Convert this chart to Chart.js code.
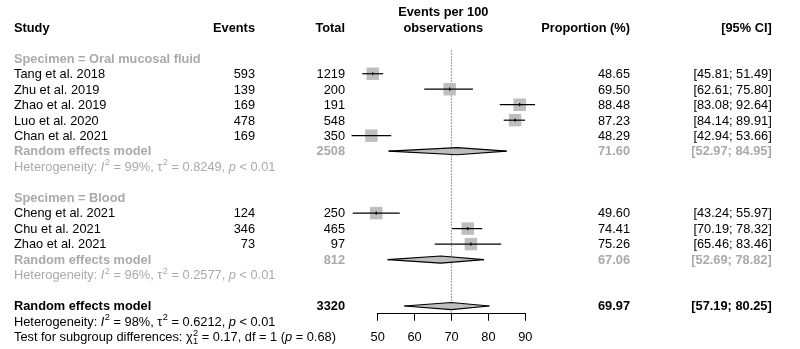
<!DOCTYPE html>
<html>
<head>
<meta charset="utf-8">
<script src="https://cdn.jsdelivr.net/npm/chart.js@4/dist/chart.umd.min.js"></script>
<style>
  html, body { margin: 0; padding: 0; background: #fff; }
  canvas { display: block; }
</style>
</head>
<body>
<canvas id="forest" width="800" height="349"></canvas>
<script>
// forest plot: proportion per specimen type

const studyLabels = ["Tang et al. 2018", "Zhu et al. 2019", "Zhao et al. 2019", "Luo et al. 2020", "Chan et al. 2021",
                     "Cheng et al. 2021", "Chu et al. 2021", "Zhao et al. 2021"];
const studyGroup  = [0, 0, 0, 0, 0, 1, 1, 1];
const studyEvents = [593, 139, 169, 478, 169, 124, 346, 73];
const studyTotals = [1219, 200, 191, 548, 350, 250, 465, 97];
const studyProp   = [48.65, 69.50, 88.48, 87.23, 48.29, 49.60, 74.41, 75.26];
const studyLower  = [45.81, 62.61, 83.08, 84.14, 42.94, 43.24, 70.19, 65.46];
const studyUpper  = [51.49, 75.80, 92.64, 89.91, 53.66, 55.97, 78.32, 83.46];

const groupNames  = ["Oral mucosal fluid", "Blood"];
const groupTotals = [2508, 812];
const groupProp   = [71.60, 67.06];
const groupLower  = [52.97, 52.69];
const groupUpper  = [84.95, 78.82];
const groupI2     = ["99%", "96%"];
const groupTau2   = ["0.8249", "0.2577"];
const groupP      = ["< 0.01", "< 0.01"];

const overallTotal = 3320;
const overallProp  = 69.97;
const overallLower = 57.19;
const overallUpper = 80.25;
const overallI2 = "98%", overallTau2 = "0.6212", overallP = "< 0.01";
const testChi2 = "0.17", testDf = "1", testP = "0.68";

const xTicks = [50, 60, 70, 80, 90];

// ---- layout ----
const FONT = '"Liberation Sans", Arial, Helvetica, sans-serif';
const FS = 12.8;
const GREY = "#aaaaaa";
const col = { study: 14, events: 255, total: 345, mid: 443.3, prop: 630, ci: 771.7 };
const TXT_DY = 0.8;

// rows: group header, studies, model, heterogeneity, blank
let row = 2;
const groupRows = [], studyRows = [], modelRows = [], hetRows = [];
groupNames.forEach((g, gi) => {
  groupRows.push(row++);
  studyGroup.forEach((sg, i) => { if (sg === gi) studyRows[i] = row++; });
  modelRows.push(row++);
  hetRows.push(row);
  row += 2;
});
const overallRow = row;

const H = 0.23; // diamond half height (rows)
const datasets = [];

datasets.push({
  data: [{ x: overallProp, y: groupRows[0] - 0.5 }, { x: overallProp, y: overallRow + 0.5 }],
  showLine: true, borderColor: "#333", borderWidth: 1, borderDash: [1, 2],
  pointRadius: 0, clip: false, order: 9
});

studyLabels.forEach((s, i) => {
  datasets.push({
    data: [{ x: studyLower[i], y: studyRows[i] }, { x: studyUpper[i], y: studyRows[i] }],
    showLine: true, borderColor: "#000", borderWidth: 1.2,
    pointRadius: 0, clip: false, order: 2
  });
});

datasets.push({
  data: studyProp.map((p, i) => ({ x: p, y: studyRows[i] })),
  pointStyle: "rect", pointRadius: 8.8, backgroundColor: "#bebebe",
  borderWidth: 0, clip: false, order: 3
});
datasets.push({
  data: studyProp.map((p, i) => ({ x: p, y: studyRows[i] })),
  pointStyle: "line", rotation: 90, pointRadius: 1.6, borderColor: "#000",
  borderWidth: 1.2, clip: false, order: 1
});

function addDiamond(est, lo, hi, r) {
  datasets.push({
    data: [{ x: lo, y: r }, { x: est, y: r - H }, { x: hi, y: r }],
    showLine: true, borderColor: "#000", borderWidth: 1.1, pointRadius: 0,
    fill: false, clip: false, order: 2
  });
  datasets.push({
    data: [{ x: lo, y: r }, { x: est, y: r + H }, { x: hi, y: r }],
    showLine: true, borderColor: "#000", borderWidth: 1.1, pointRadius: 0,
    fill: "-1", backgroundColor: "#bebebe", clip: false, order: 2
  });
}
groupProp.forEach((p, gi) => addDiamond(p, groupLower[gi], groupUpper[gi], modelRows[gi]));
addDiamond(overallProp, overallLower, overallUpper, overallRow);

// text with italics / super- and subscripts
function rich(ctx, x, y, parts, color, bold) {
  const w = bold ? "bold " : "";
  ctx.fillStyle = color;
  ctx.textAlign = "left";
  ctx.textBaseline = "middle";
  parts.forEach(p => {
    if (p.t !== undefined) {
      ctx.font = (p.i ? "italic " : "") + w + FS + "px " + FONT;
      ctx.fillText(p.t, x, y);
      x += ctx.measureText(p.t).width;
    } else {
      ctx.font = w + (FS * 0.72) + "px " + FONT;
      let adv = 0;
      if (p.sup) { ctx.fillText(p.sup, x + 0.5, y - FS * 0.36); adv = ctx.measureText(p.sup).width; }
      if (p.sub) { ctx.fillText(p.sub, x + 0.5, y + FS * 0.3); adv = Math.max(adv, ctx.measureText(p.sub).width); }
      x += adv + 0.5;
    }
  });
}

function het(i2, tau2, p) {
  return [{ t: "Heterogeneity: " }, { t: "I", i: true }, { sup: "2" }, { t: " = " + i2 + ", " },
          { t: "\u03c4" }, { sup: "2" }, { t: " = " + tau2 + ", " }, { t: "p", i: true }, { t: " " + p }];
}

const tablePlugin = {
  id: "table",
  afterDraw(chart) {
    const ctx = chart.ctx;
    const ys = chart.scales.y;
    const Y = r => ys.getPixelForValue(r) + TXT_DY;
    function txt(s, x, r, align, color, bold) {
      ctx.font = (bold ? "bold " : "") + FS + "px " + FONT;
      ctx.fillStyle = color;
      ctx.textAlign = align;
      ctx.textBaseline = "middle";
      ctx.fillText(s, x, Y(r));
    }
    ctx.save();
    // header
    const hr = groupRows[0] - 2;
    txt("Study", col.study, hr, "left", "#000", true);
    txt("Events", col.events, hr, "right", "#000", true);
    txt("Total", col.total, hr, "right", "#000", true);
    txt("Events per 100", col.mid, hr - 1, "center", "#000", true);
    txt("observations", col.mid, hr, "center", "#000", true);
    txt("Proportion (%)", col.prop, hr, "right", "#000", true);
    txt("[95% CI]", col.ci, hr, "right", "#000", true);

    studyLabels.forEach((s, i) => {
      const r = studyRows[i];
      txt(s, col.study, r, "left", "#000");
      txt(String(studyEvents[i]), col.events, r, "right", "#000");
      txt(String(studyTotals[i]), col.total, r, "right", "#000");
      txt(studyProp[i].toFixed(2), col.prop, r, "right", "#000");
      txt("[" + studyLower[i].toFixed(2) + "; " + studyUpper[i].toFixed(2) + "]", col.ci, r, "right", "#000");
    });

    groupNames.forEach((g, gi) => {
      txt("Specimen = " + g, col.study, groupRows[gi], "left", GREY, true);
      const r = modelRows[gi];
      txt("Random effects model", col.study, r, "left", GREY, true);
      txt(String(groupTotals[gi]), col.total, r, "right", GREY, true);
      txt(groupProp[gi].toFixed(2), col.prop, r, "right", GREY, true);
      txt("[" + groupLower[gi].toFixed(2) + "; " + groupUpper[gi].toFixed(2) + "]", col.ci, r, "right", GREY, true);
      rich(ctx, col.study, Y(hetRows[gi]), het(groupI2[gi], groupTau2[gi], groupP[gi]), GREY);
    });

    txt("Random effects model", col.study, overallRow, "left", "#000", true);
    txt(String(overallTotal), col.total, overallRow, "right", "#000", true);
    txt(overallProp.toFixed(2), col.prop, overallRow, "right", "#000", true);
    txt("[" + overallLower.toFixed(2) + "; " + overallUpper.toFixed(2) + "]", col.ci, overallRow, "right", "#000", true);
    rich(ctx, col.study, Y(overallRow + 1), het(overallI2, overallTau2, overallP), "#000");
    rich(ctx, col.study, Y(overallRow + 2), [
      { t: "Test for subgroup differences: " }, { t: "\u03c7" }, { sup: "2", sub: testDf },
      { t: " = " + testChi2 + ", df = " + testDf + " (" }, { t: "p", i: true }, { t: " = " + testP + ")" }
    ], "#000");
    ctx.restore();
  }
};

new Chart(document.getElementById("forest"), {
  type: "scatter",
  data: { datasets: datasets },
  options: {
    responsive: false,
    animation: false,
    events: [],
    layout: { padding: { left: 377.7, right: 274.7, top: 50.5, bottom: 0 } },
    plugins: { legend: { display: false }, tooltip: { enabled: false } },
    scales: {
      x: {
        type: "linear", min: xTicks[0], max: xTicks[xTicks.length - 1],
        afterBuildTicks: axis => { axis.ticks = xTicks.map(v => ({ value: v })); },
        afterFit: axis => { axis.height = 35.2; },
        ticks: { color: "#000", padding: 8.6, font: { family: FONT, size: FS } },
        grid: { drawOnChartArea: false, drawTicks: true, tickLength: 7, color: "#000", lineWidth: 1 },
        border: { color: "#000", width: 1 }
      },
      y: { type: "linear", reverse: true, min: groupRows[0] - 0.5, max: overallRow + 0.5, display: false }
    }
  },
  plugins: [tablePlugin]
});
</script>
</body>
</html>
